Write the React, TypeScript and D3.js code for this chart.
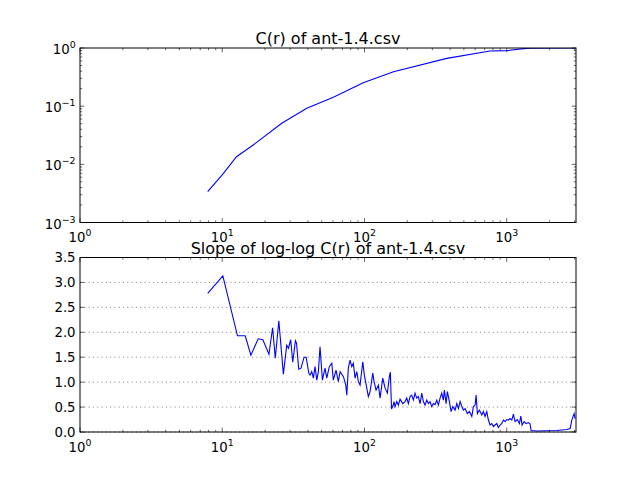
import React from "react";
import * as d3 from "d3";

// C(r) series (top panel)
const cR = [7.9, 10.1, 12.6, 16.5, 26.2, 39.3, 60.4, 98, 160, 379, 764, 1000, 1310, 1480, 3026];
const cVal = [0.0034, 0.0068, 0.0135, 0.0215, 0.0507, 0.092, 0.142, 0.253, 0.392, 0.664, 0.888, 0.9, 0.975, 0.99, 1.0];

// slope of log-log C(r) (bottom panel)
const slopeR = [
  7.9, 10.1, 12.8, 14.5, 15.9, 17.9, 19.3, 21.3, 22.6, 23.6, 25.0, 26.9, 28.4, 29.2, 30.3, 31.3, 32.7, 33.3, 34.5, 35.8, 37.6, 38.9, 40.6,
  41.4, 42.6, 43.7, 44.9, 46.2, 47.4, 48.7, 50.6, 52.8, 54.3, 56.6, 58.9, 60.4, 63.1, 65.5, 67.4, 71.1, 73.9, 75.1, 77.0, 79.2, 81.4, 83.5,
  85.9, 88.3, 90.6, 93.1, 97.3, 99.8, 103.8, 106.5, 109.5, 114.4, 116.8, 120.6, 125.2, 128.7, 134.5, 139.6, 144.9, 149.6, 152, 155, 159.7,
  161.4, 164.1, 168.7, 173.1, 177.9, 185.9, 192.9, 198.3, 203.5, 209.2, 215.0, 220.7, 226.8, 233.1, 239.3, 246.0, 252.8, 259.5, 266.7,
  274.2, 281.3, 289.2, 297.2, 305.1, 313.6, 322.3, 330.8, 340.0, 349.5, 358.6, 364.5, 374.7, 382.7, 395.4, 406.4, 417.8, 433.6, 445.7,
  457.5, 470.3, 483.4, 496.1, 509.9, 529.2, 546.6, 568.3, 583.2, 599.5, 609.3, 622.2, 642.7, 668.2, 685.5, 704.7, 724.3, 743.3,
  764.0, 785.4, 806.0, 828.5, 851.6, 874.0, 898.3, 923.4, 947.6, 974.1, 1001, 1028, 1056, 1086, 1114, 1145, 1189, 1228, 1256, 1283,
  1325, 1369, 1421, 1460, 1484, 1627, 2250, 2646, 2791, 2869, 2978, 3026,
];
const slopeVal = [
  2.78, 3.13, 1.93, 1.93, 1.54, 1.87, 1.85, 1.56, 2.09, 1.48, 2.23, 1.16, 1.74, 1.68, 1.85, 1.4, 1.83, 1.78, 1.26, 1.28, 1.5, 1.5, 1.18,
  1.14, 1.21, 1.08, 1.31, 1.04, 1.21, 1.71, 1.04, 1.28, 1.08, 1.31, 1.38, 1.04, 1.24, 1.01, 1.21, 1.11, 0.94, 0.74, 1.28, 1.44, 1.31, 1.38,
  1.08, 1.21, 1.01, 0.94, 1.41, 1.14, 0.88, 0.71, 0.81, 1.18, 1.01, 0.84, 0.94, 0.68, 1.08, 0.88, 0.78, 1.11, 1.2, 0.46, 0.55,
  0.61, 0.51, 0.61, 0.54, 0.66, 0.57, 0.61, 0.68, 0.57, 0.71, 0.74, 0.64, 0.78, 0.68, 0.71, 0.57, 0.78, 0.61, 0.54,
  0.64, 0.57, 0.61, 0.51, 0.57, 0.55, 0.64, 0.54, 0.68, 0.78, 0.64, 0.84, 0.57, 0.81, 0.61, 0.41, 0.51, 0.44, 0.57,
  0.47, 0.61, 0.51, 0.44, 0.47, 0.37, 0.41, 0.31, 0.51, 0.54, 0.74, 0.37, 0.44, 0.34, 0.41, 0.31, 0.41, 0.24,
  0.14, 0.17, 0.11, 0.14, 0.17, 0.09, 0.14, 0.17, 0.24, 0.21, 0.25, 0.24, 0.27, 0.24, 0.36, 0.21, 0.25, 0.17, 0.32, 0.14,
  0.21, 0.17, 0.19, 0.16, 0.03, 0.02, 0.03, 0.05, 0.07, 0.24, 0.37, 0.27,
];

const xDecades = [0, 1, 2, 3];
const yDecades = [-3, -2, -1, 0];
const slopeTicks = [0, 0.5, 1, 1.5, 2, 2.5, 3, 3.5];
const slopeTickLabels = ["0.0", "0.5", "1.0", "1.5", "2.0", "2.5", "3.0", "3.5"];
const titleTop = "C(r) of ant-1.4.csv";
const titleBottom = "Slope of log-log C(r) of ant-1.4.csv";

const W = 640, H = 480;
const L = 80, R = 576;
const T1 = 48, B1 = 222.5, T2 = 257.5, B2 = 432;
const FONT = "DejaVu Sans, sans-serif";

function Pow({ x, y, e, anchor }: { x: number; y: number; e: number; anchor: string }) {
  const s = e < 0 ? "\u2212" + Math.abs(e) : String(e);
  return (
    <text x={x} y={y} textAnchor={anchor} fontFamily={FONT} fontSize={13.3} fill="#000">
      <tspan>10</tspan>
      <tspan dy={-6} fontSize={9.4}>{s}</tspan>
    </text>
  );
}

export default function App() {
  const x = d3.scaleLog().domain([1, 3070]).range([L, R]);
  const y1 = d3.scaleLog().domain([1e-3, 1]).range([B1, T1]);
  const y2 = d3.scaleLinear().domain([0, 3.5]).range([B2, T2]);

  const minorX: number[] = [];
  for (const d of xDecades) for (let m = 2; m <= 9; m++) { const v = m * Math.pow(10, d); if (v <= 3070) minorX.push(v); }
  const minorY: number[] = [];
  for (const d of yDecades.slice(0, 3)) for (let m = 2; m <= 9; m++) minorY.push(m * Math.pow(10, d));

  const line1 = d3.line<number>().x((_, i) => x(cR[i])).y((v) => y1(v));
  const line2 = d3.line<number>().x((_, i) => x(slopeR[i])).y((v) => y2(v));

  const xTicks = (top: number, bot: number, key: string) => (
    <g key={key} stroke="#000" strokeWidth={0.6}>
      {xDecades.map((d) => {
        const px = x(Math.pow(10, d));
        return (
          <g key={d}>
            <line x1={px} x2={px} y1={bot} y2={bot - 4.4} />
            <line x1={px} x2={px} y1={top} y2={top + 4.4} />
          </g>
        );
      })}
      {minorX.map((v) => {
        const px = x(v);
        return (
          <g key={v}>
            <line x1={px} x2={px} y1={bot} y2={bot - 2.2} />
            <line x1={px} x2={px} y1={top} y2={top + 2.2} />
          </g>
        );
      })}
    </g>
  );

  return (
    <div style={{ position: "absolute", left: 0, top: 0 }}>
      <svg width={W} height={H} viewBox={`0 0 ${W} ${H}`} style={{ display: "block", background: "#fff" }}>
        <defs>
          <clipPath id="c1"><rect x={L} y={T1} width={R - L} height={B1 - T1} /></clipPath>
          <clipPath id="c2"><rect x={L} y={T2} width={R - L} height={B2 - T2} /></clipPath>
        </defs>
        <rect x={0} y={0} width={W} height={H} fill="#fff" />

        {/* Top panel */}
        <rect x={L} y={T1} width={R - L} height={B1 - T1} fill="#fff" />
        <path d={line1(cVal) || ""} fill="none" stroke="#0000ff" strokeWidth={1.1} clipPath="url(#c1)" />
        {xTicks(T1, B1, "xt1")}
        <g stroke="#000" strokeWidth={0.6}>
          {yDecades.map((d) => {
            const py = y1(Math.pow(10, d));
            return (
              <g key={d}>
                <line x1={L} x2={L + 4.4} y1={py} y2={py} />
                <line x1={R} x2={R - 4.4} y1={py} y2={py} />
              </g>
            );
          })}
          {minorY.map((v) => {
            const py = y1(v);
            return (
              <g key={v}>
                <line x1={L} x2={L + 2.2} y1={py} y2={py} />
                <line x1={R} x2={R - 2.2} y1={py} y2={py} />
              </g>
            );
          })}
        </g>
        <rect x={L} y={T1} width={R - L} height={B1 - T1} fill="none" stroke="#000" strokeWidth={1} />
        {yDecades.map((d) => (
          <Pow key={d} x={75.6} y={y1(Math.pow(10, d)) + 6} e={d} anchor="end" />
        ))}
        {xDecades.map((d) => (
          <Pow key={d} x={x(Math.pow(10, d))} y={B1 + 19.7} e={d} anchor="middle" />
        ))}
        <text x={(L + R) / 2} y={T1 - 4} textAnchor="middle" fontFamily={FONT} fontSize={16}>{titleTop}</text>

        {/* Bottom panel */}
        <g stroke="#000" strokeWidth={0.5} strokeDasharray="1,3.3">
          {slopeTicks.map((t) => (
            <line key={t} x1={L} x2={R} y1={y2(t)} y2={y2(t)} />
          ))}
        </g>
        <path d={line2(slopeVal) || ""} fill="none" stroke="#0000ff" strokeWidth={1.1} clipPath="url(#c2)" />
        {xTicks(T2, B2, "xt2")}
        <g stroke="#000" strokeWidth={0.6}>
          {slopeTicks.map((t) => (
            <g key={t}>
              <line x1={L} x2={L + 4.4} y1={y2(t)} y2={y2(t)} />
              <line x1={R} x2={R - 4.4} y1={y2(t)} y2={y2(t)} />
            </g>
          ))}
        </g>
        <rect x={L} y={T2} width={R - L} height={B2 - T2} fill="none" stroke="#000" strokeWidth={1} />
        {slopeTicks.map((t, i) => (
          <text key={t} x={75.6} y={y2(t) + 4.6} textAnchor="end" fontFamily={FONT} fontSize={13.3}>{slopeTickLabels[i]}</text>
        ))}
        {xDecades.map((d) => (
          <Pow key={d} x={x(Math.pow(10, d))} y={B2 + 19.7} e={d} anchor="middle" />
        ))}
        <text x={(L + R) / 2} y={T2 - 4} textAnchor="middle" fontFamily={FONT} fontSize={16}>{titleBottom}</text>
      </svg>
    </div>
  );
}
